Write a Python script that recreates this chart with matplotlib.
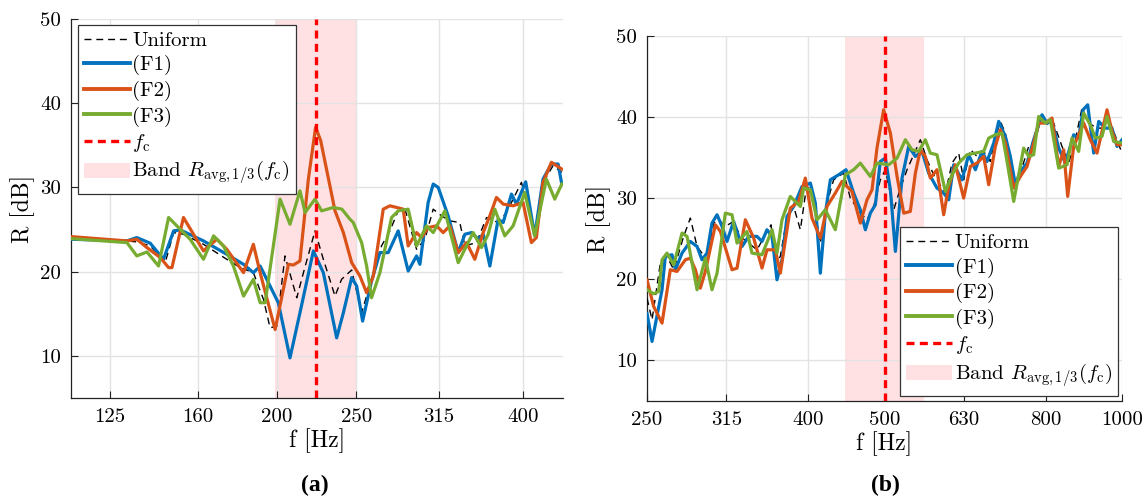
import matplotlib
matplotlib.use("Agg")
import matplotlib.pyplot as plt
from matplotlib.patches import Patch
from matplotlib.lines import Line2D
from matplotlib.ticker import FixedLocator, FixedFormatter, NullLocator

plt.rcParams["font.family"] = ["cmr10"]
plt.rcParams["mathtext.fontset"] = "cm"
plt.rcParams["axes.formatter.use_mathtext"] = True

# ---------------- panel (a) ----------------
a_uni_f = [111.8, 131.1, 134.8, 140.0, 146.0, 149.5, 153.7, 162.6, 173.6, 180.3, 187.1, 192.5,
           196.1, 199.8, 204.5, 211.4, 215.4, 222.5, 227.8, 235.4, 239.8, 246.7, 253.7, 260.9,
           268.3, 274.7, 281.2, 286.6, 296.1, 303.1, 310.3, 317.6, 325.2, 334.4, 339.2, 350.5,
           360.5, 372.5, 381.3, 397.7, 412.8, 422.6, 434.7, 445.5]
a_uni_r = [23.93, 23.65, 23.53, 23.06, 21.07, 24.64, 24.44, 23.25, 21.47, 20.48, 19.88, 16.71,
           13.33, 13.53, 21.87, 16.90, 19.88, 24.84, 21.47, 17.10, 19.09, 20.20, 15.12, 19.09,
           23.06, 24.84, 27.22, 27.42, 22.66, 23.85, 27.42, 26.63, 26.03, 25.83, 23.06, 23.45,
           26.43, 25.83, 27.02, 30.60, 24.64, 30.60, 32.58, 31.79]

a_f1_f = [111.8, 131.1, 134.8, 140.0, 145.3, 149.5, 152.3, 162.6, 173.6, 182.0, 187.1, 190.7,
          196.1, 200.7, 207.4, 213.3, 221.5, 227.8, 236.5, 241.0, 246.7, 250.2, 254.4, 260.9,
          267.1, 273.4, 281.2, 289.2, 296.1, 298.9, 305.9, 310.3, 314.7, 323.6, 332.9, 339.2,
          345.6, 352.1, 357.1, 363.9, 372.5, 377.8, 386.7, 392.2, 402.5, 412.8, 422.6, 432.7,
          440.9, 445.5]
a_f1_r = [23.85, 23.65, 24.05, 23.37, 21.47, 24.84, 24.96, 23.65, 22.06, 20.87, 19.88, 20.67,
          18.29, 16.31, 9.76, 15.12, 22.46, 19.88, 12.14, 15.12, 19.29, 18.29, 14.13, 18.89,
          22.26, 22.26, 24.84, 20.08, 21.87, 20.87, 28.21, 30.40, 30.00, 26.63, 22.26, 24.44,
          24.64, 23.85, 24.44, 20.67, 26.23, 25.83, 29.21, 28.02, 30.67, 24.25, 30.99, 32.78,
          32.78, 30.40]

a_f2_f = [111.8, 131.1, 134.8, 138.7, 144.0, 147.4, 148.8, 153.7, 162.6, 168.8, 173.6, 182.0,
          187.1, 190.7, 198.9, 206.5, 209.4, 213.3, 218.4, 222.9, 226.1, 235.4, 241.0, 246.7,
          252.5, 257.3, 262.2, 269.6, 274.7, 285.2, 289.2, 296.1, 300.3, 305.9, 313.2, 319.1,
          325.2, 332.9, 340.8, 348.8, 357.1, 363.9, 370.7, 377.8, 388.5, 399.5, 409.0, 414.8,
          422.6, 432.7, 445.5]
a_f2_r = [24.17, 23.65, 23.85, 22.86, 21.67, 20.48, 20.48, 26.43, 22.46, 23.85, 22.66, 19.88,
          23.25, 19.88, 13.13, 20.87, 20.79, 21.27, 30.99, 37.14, 35.56, 27.22, 24.64, 21.07,
          19.48, 17.50, 19.48, 27.42, 27.82, 27.42, 23.06, 24.64, 24.05, 25.24, 25.44, 24.64,
          25.44, 22.26, 23.45, 21.47, 24.64, 26.63, 28.81, 28.02, 27.82, 28.21, 23.45, 24.05,
          30.60, 32.98, 32.18]

a_f3_f = [111.8, 131.1, 134.8, 138.7, 143.3, 147.4, 156.6, 162.6, 167.3, 172.0, 176.9, 182.0,
          187.1, 190.7, 193.4, 201.7, 207.4, 213.3, 216.4, 222.5, 226.7, 234.3, 240.0, 245.5,
          247.8, 253.7, 257.3, 260.9, 267.1, 276.0, 281.2, 289.2, 296.1, 304.5, 310.3, 320.6,
          332.9, 347.2, 355.4, 362.2, 369.0, 379.5, 388.5, 401.4, 412.8, 426.6, 436.8, 445.5]
a_f3_r = [23.93, 23.45, 21.87, 22.34, 20.67, 26.43, 23.85, 21.47, 24.25, 23.06, 20.67, 17.10,
          19.09, 16.31, 16.31, 28.61, 25.63, 29.60, 27.02, 28.61, 27.22, 27.62, 27.42, 26.23,
          25.83, 23.45, 20.67, 16.90, 19.88, 26.43, 27.22, 27.42, 23.06, 25.44, 24.64, 27.22,
          21.07, 24.64, 22.86, 24.44, 27.42, 24.25, 25.44, 29.40, 24.25, 30.99, 28.61, 30.40]

a_fc = 223
a_xlim = (112, 447)
a_ticks = [125, 160, 200, 250, 315, 400]

# ---------------- panel (b) ----------------
b_uni_f = [250.0, 253.7, 259.9, 265.0, 270.3, 278.2, 283.7, 289.3, 297.8, 303.7, 308.2, 314.2,
           321.9, 328.2, 336.3, 344.6, 353.1, 359.0, 363.6, 368.9, 376.2, 383.5, 391.1, 398.8,
           406.6, 414.6, 422.7, 431.0, 443.8, 452.5, 465.9, 475.1, 484.4, 493.9, 501.2, 513.6,
           523.7, 533.9, 544.4, 555.1, 566.0, 577.1, 597.1, 608.9, 620.8, 629.9, 642.3, 654.9,
           667.8, 680.9, 687.6, 701.1, 711.4, 728.9, 743.2, 761.5, 776.4, 791.7, 807.2, 819.1,
           839.3, 855.8, 872.6, 889.7, 907.2, 929.5, 947.8, 966.4, 1000.0]
b_uni_r = [17.68, 15.01, 22.00, 22.82, 21.18, 25.29, 27.55, 24.05, 22.41, 26.93, 27.34, 26.52,
           27.14, 25.29, 24.46, 23.64, 25.49, 26.72, 22.00, 22.82, 27.75, 28.98, 26.11, 31.86,
           29.40, 24.46, 29.40, 32.27, 33.10, 30.01, 28.16, 27.34, 28.98, 32.27, 33.51, 28.57,
           31.25, 33.51, 35.36, 37.21, 34.74, 32.89, 30.63, 34.33, 35.56, 32.27, 36.00, 35.15,
           35.77, 34.53, 36.79, 39.47, 38.03, 31.86, 33.10, 36.38, 37.21, 40.29, 38.85, 39.26,
           36.38, 34.33, 37.21, 41.11, 39.26, 38.64, 38.64, 39.26, 35.56]

b_f1_f = [250.0, 253.7, 261.2, 263.7, 268.9, 271.6, 276.9, 283.7, 289.3, 293.5, 297.8, 302.2,
          306.7, 311.2, 315.7, 321.9, 329.9, 336.3, 344.6, 349.7, 354.8, 360.1, 365.3, 370.7,
          376.2, 383.5, 393.0, 402.7, 408.6, 414.6, 420.7, 426.9, 437.4, 446.8, 456.9, 465.9,
          472.8, 479.7, 486.8, 493.9, 501.2, 508.6, 516.1, 526.2, 536.5, 547.1, 557.8, 568.7,
          582.7, 594.2, 603.0, 611.8, 626.9, 639.2, 651.8, 664.5, 674.3, 687.6, 697.7, 711.4,
          721.8, 732.4, 743.2, 757.8, 772.7, 791.7, 803.3, 815.1, 831.2, 847.5, 868.3, 881.1,
          892.4, 904.6, 920.6, 934.1, 952.4, 971.1, 985.4, 1000.0]
b_f1_r = [15.80, 12.34, 18.71, 22.82, 23.03, 21.18, 23.23, 24.67, 24.05, 22.41, 23.23, 26.93,
          27.96, 26.52, 24.67, 27.14, 24.05, 25.29, 25.29, 24.67, 26.11, 25.29, 19.94, 22.41,
          27.75, 28.98, 31.45, 31.86, 29.40, 20.76, 28.16, 32.27, 32.89, 33.51, 30.63, 28.57,
          26.11, 28.16, 29.19, 34.53, 34.94, 31.04, 23.44, 32.48, 36.38, 35.15, 35.77, 33.10,
          31.25, 30.63, 29.81, 34.12, 32.27, 35.36, 33.51, 35.77, 34.53, 36.79, 39.47, 37.62,
          35.15, 31.66, 33.30, 34.33, 37.21, 40.29, 39.26, 39.47, 36.18, 34.33, 37.82, 37.41,
          40.90, 41.52, 35.56, 39.47, 38.64, 38.64, 36.38, 37.21]

b_f2_f = [250.0, 254.9, 261.2, 267.6, 272.9, 279.6, 283.7, 287.9, 292.1, 296.4, 305.2, 309.7,
          320.4, 325.1, 333.1, 341.3, 349.7, 354.8, 363.6, 368.9, 379.8, 389.2, 396.8, 404.6,
          414.6, 422.7, 433.1, 441.6, 448.1, 454.7, 465.9, 475.1, 482.1, 489.1, 498.7, 508.6,
          518.6, 528.8, 539.1, 547.1, 555.1, 563.2, 571.5, 582.7, 594.2, 603.0, 614.8, 629.9,
          642.3, 654.9, 667.8, 677.6, 690.9, 701.1, 711.4, 728.9, 743.2, 757.8, 772.7, 784.0,
          799.4, 815.1, 831.2, 843.4, 853.3, 868.3, 894.1, 911.6, 929.5, 957.1, 971.1, 985.4,
          1000.0]
b_f2_r = [19.94, 16.65, 14.60, 21.18, 20.97, 22.41, 22.61, 21.18, 18.91, 20.97, 26.72, 25.90,
          21.18, 21.38, 27.34, 25.08, 21.38, 23.64, 23.64, 20.76, 28.78, 29.60, 32.48, 27.55,
          25.08, 28.98, 30.63, 32.07, 31.45, 30.83, 26.93, 29.81, 31.04, 36.18, 40.90, 38.03,
          32.68, 28.16, 28.37, 33.10, 35.97, 35.15, 32.48, 33.51, 27.96, 31.45, 34.12, 30.01,
          33.92, 34.33, 35.15, 31.66, 36.38, 38.44, 36.79, 31.25, 32.68, 33.92, 36.79, 39.26,
          39.26, 39.88, 33.92, 35.97, 30.22, 36.38, 39.26, 37.21, 35.56, 40.90, 38.23, 36.59,
          36.59]

b_f3_f = [250.0, 254.9, 258.7, 261.2, 265.0, 270.3, 276.9, 281.0, 289.3, 296.4, 302.2, 306.7,
          314.2, 320.4, 325.1, 334.7, 339.6, 349.7, 360.1, 365.3, 370.7, 379.8, 391.1, 394.9,
          402.7, 410.6, 420.7, 433.1, 446.0, 456.9, 465.9, 479.7, 489.1, 506.1, 518.6, 531.3,
          541.8, 552.4, 563.2, 571.5, 582.7, 597.1, 608.9, 620.8, 636.1, 651.8, 667.8, 677.6,
          690.9, 704.5, 714.9, 728.9, 750.4, 761.5, 772.7, 784.0, 799.4, 811.2, 831.2, 851.6,
          864.1, 881.1, 894.1, 911.6, 925.0, 943.2, 957.1, 975.9, 1000.0]
b_f3_r = [18.71, 18.22, 18.50, 22.41, 23.23, 21.79, 25.70, 25.29, 18.71, 22.61, 18.71, 20.76,
          28.16, 27.96, 24.46, 25.90, 23.23, 23.03, 26.11, 23.23, 27.34, 30.22, 28.98, 31.25,
          31.04, 27.34, 28.57, 26.11, 32.89, 33.51, 34.33, 32.68, 34.33, 34.12, 34.94, 37.21,
          35.97, 35.77, 37.21, 35.56, 35.36, 30.83, 32.89, 34.33, 35.36, 35.56, 35.77, 37.41,
          37.82, 38.03, 34.53, 29.60, 36.18, 35.15, 35.36, 40.08, 39.26, 39.67, 33.71, 34.12,
          37.41, 35.77, 40.49, 39.05, 37.41, 37.62, 40.08, 37.00, 36.79]

b_fc = 500
b_xlim = (250, 1000)
b_ticks = [250, 315, 400, 500, 630, 800, 1000]

y_ticks = [10, 20, 30, 40, 50]
y_lim = (5, 50)

C_BLUE = "#0072BD"
C_ORANGE = "#D95319"
C_GREEN = "#77AC30"
C_BAND = "#FFE1E4"
LABELS = ["Uniform", "(F1)", "(F2)", "(F3)", r"$f_\mathrm{c}$",
          r"Band $R_{\mathrm{avg},1/3}(f_\mathrm{c})$"]

FS_TICK = 15
FS_LABEL = 17
FS_LEG = 15


def draw_panel(ax, series, fc, xlim, ticks):
    third = 2 ** (1 / 6)
    ax.axvspan(fc / third, fc * third, color=C_BAND, lw=0, zorder=0)
    (uf, ur), (f1f, f1r), (f2f, f2r), (f3f, f3r) = series
    ax.plot(uf, ur, color="black", lw=1.0, ls=(0, (5, 3.5)), zorder=3)
    ax.plot(f1f, f1r, color=C_BLUE, lw=2.3, zorder=4)
    ax.plot(f2f, f2r, color=C_ORANGE, lw=2.3, zorder=5)
    ax.plot(f3f, f3r, color=C_GREEN, lw=2.3, zorder=6)
    ax.axvline(fc, color="red", lw=2.4, ls=(0, (2.4, 1.6)), zorder=7)

    ax.set_xscale("log")
    ax.set_xlim(*xlim)
    ax.set_ylim(*y_lim)
    ax.xaxis.set_major_locator(FixedLocator(ticks))
    ax.xaxis.set_major_formatter(FixedFormatter([str(t) for t in ticks]))
    ax.xaxis.set_minor_locator(NullLocator())
    ax.set_yticks(y_ticks)
    ax.set_yticklabels([str(t) for t in y_ticks])
    ax.grid(True, color="#e3e3e3", lw=1.0, zorder=1)
    ax.set_axisbelow(True)
    for s in ("top", "right"):
        ax.spines[s].set_visible(False)
    for s in ("left", "bottom"):
        ax.spines[s].set_linewidth(0.9)
        ax.spines[s].set_color("#222222")
    ax.tick_params(direction="in", length=5, width=0.8, labelsize=FS_TICK, pad=7,
                   color="#222222")
    ax.set_xlabel("f [Hz]", fontsize=FS_LABEL, labelpad=2)
    ax.set_ylabel("R [dB]", fontsize=FS_LABEL, labelpad=4)


def legend_handles():
    return [
        Line2D([], [], color="black", lw=1.0, ls=(0, (5, 3.5))),
        Line2D([], [], color=C_BLUE, lw=2.8),
        Line2D([], [], color=C_ORANGE, lw=2.8),
        Line2D([], [], color=C_GREEN, lw=2.8),
        Line2D([], [], color="red", lw=2.4, ls=(0, (2.4, 1.6))),
        Patch(facecolor=C_BAND, edgecolor="none"),
    ]


fig = plt.figure(figsize=(11.48, 4.97), dpi=100)
ax1 = fig.add_axes([0.0618, 0.1992, 0.4286, 0.7626])
ax2 = fig.add_axes([0.5636, 0.1932, 0.4138, 0.7344])

draw_panel(ax1, [(a_uni_f, a_uni_r), (a_f1_f, a_f1_r), (a_f2_f, a_f2_r), (a_f3_f, a_f3_r)],
           a_fc, a_xlim, a_ticks)
draw_panel(ax2, [(b_uni_f, b_uni_r), (b_f1_f, b_f1_r), (b_f2_f, b_f2_r), (b_f3_f, b_f3_r)],
           b_fc, b_xlim, b_ticks)

leg_kw = dict(fontsize=FS_LEG, handlelength=2.2, handletextpad=0.12, labelspacing=0.26,
              borderpad=0.3, borderaxespad=0.0, fancybox=False, framealpha=1.0,
              edgecolor="#333333")
l1 = ax1.legend(legend_handles(), LABELS, loc="upper left",
                bbox_to_anchor=(0.014, 0.984), **leg_kw)
l2 = ax2.legend(legend_handles(), LABELS, loc="lower right",
                bbox_to_anchor=(0.992, 0.014), **leg_kw)
for lg in (l1, l2):
    lg.get_frame().set_linewidth(0.9)
    lg.set_zorder(10)

fig.text(315 / 1148, 1 - 485 / 497, "(a)", ha="center", va="center",
         fontsize=17, fontweight="bold", family="Liberation Serif")
fig.text(885 / 1148, 1 - 485 / 497, "(b)", ha="center", va="center",
         fontsize=17, fontweight="bold", family="Liberation Serif")

fig.savefig("out.png", dpi=100)
